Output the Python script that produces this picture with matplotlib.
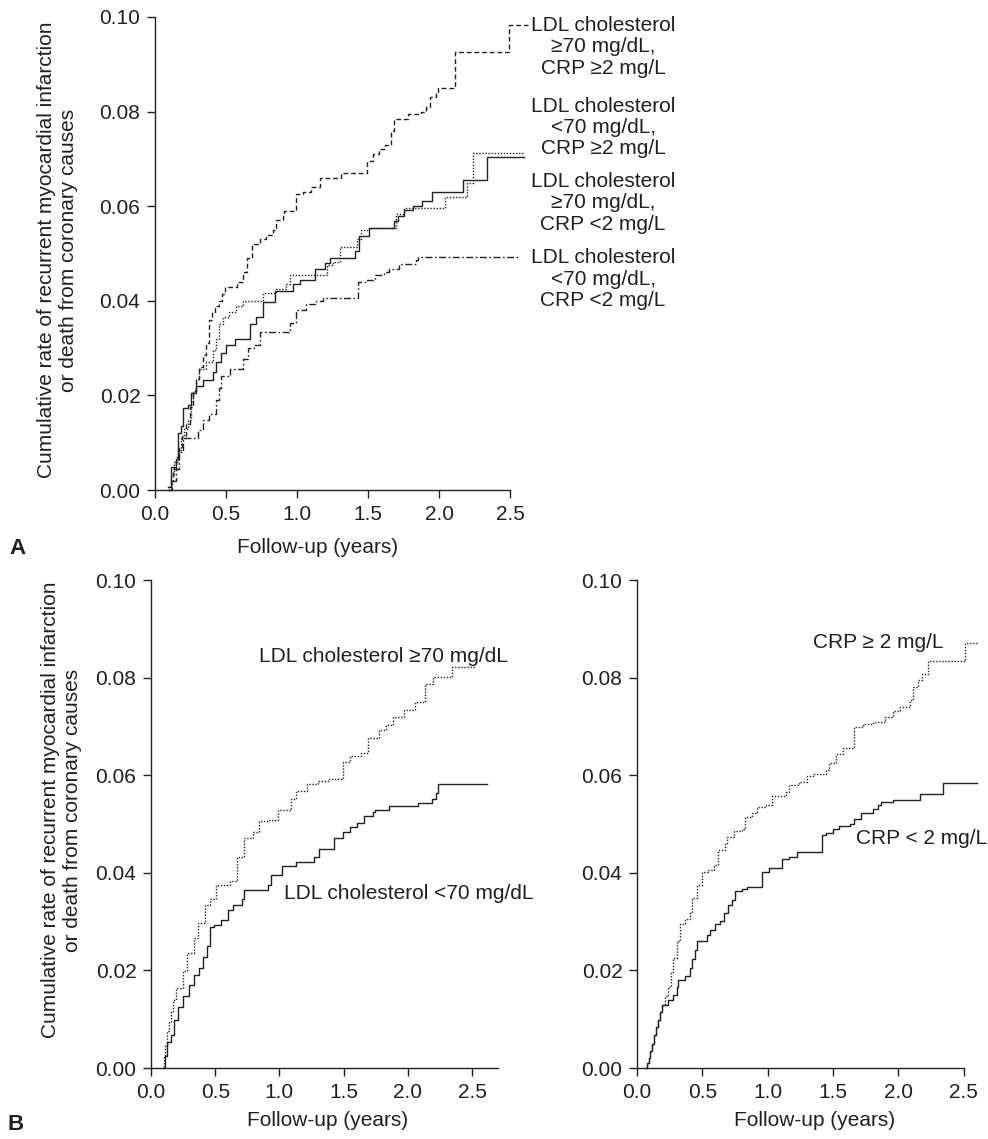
import matplotlib.pyplot as plt

plt.rcParams['font.family'] = ['Liberation Sans', 'DejaVu Sans']

INK = '#202020'
FS = 15

# Panel A: four LDL / CRP groups (cumulative event rate, step curves)
a_ldl_hi_crp_hi_x = [0.09, 0.11, 0.13, 0.15, 0.17, 0.19, 0.22, 0.245, 0.27, 0.29, 0.31, 0.335, 0.36, 0.38,
                     0.40, 0.42, 0.45, 0.47, 0.49, 0.55, 0.58, 0.62, 0.65, 0.68, 0.74, 0.78, 0.83, 0.85,
                     0.90, 0.91, 0.995, 1.04, 1.10, 1.16, 1.31, 1.465, 1.49, 1.535, 1.58, 1.62, 1.665,
                     1.68, 1.78, 1.875, 1.91, 1.935, 1.98, 1.995, 2.11, 2.49, 2.63]
a_ldl_hi_crp_hi_y = [0.0006, 0.002, 0.0045, 0.007, 0.009, 0.0115, 0.014, 0.0175, 0.021, 0.0235, 0.026,
                     0.0285, 0.031, 0.036, 0.0375, 0.039, 0.040, 0.0415, 0.043, 0.043, 0.044, 0.046,
                     0.049, 0.052, 0.053, 0.054, 0.055, 0.057, 0.058, 0.059, 0.0625, 0.063, 0.064,
                     0.066, 0.067, 0.067, 0.0695, 0.071, 0.072, 0.073, 0.076, 0.0785, 0.0795, 0.080,
                     0.081, 0.083, 0.084, 0.085, 0.0925, 0.0983, 0.0983]

a_ldl_lo_crp_hi_x = [0.09, 0.11, 0.137, 0.16, 0.18, 0.205, 0.23, 0.25, 0.266, 0.29, 0.31, 0.36, 0.41, 0.43,
                     0.45, 0.48, 0.52, 0.57, 0.62, 0.76, 0.85, 0.925, 0.95, 1.21, 1.25, 1.30, 1.42, 1.45,
                     1.51, 1.70, 1.75, 2.04, 2.195, 2.24, 2.60]
a_ldl_lo_crp_hi_y = [0.0, 0.003, 0.006, 0.0085, 0.011, 0.013, 0.0147, 0.018, 0.021, 0.0235, 0.0256,
                     0.027, 0.0295, 0.032, 0.035, 0.0365, 0.0377, 0.039, 0.040, 0.0416, 0.0424, 0.0436,
                     0.0455, 0.0475, 0.0483, 0.0514, 0.053, 0.055, 0.0553, 0.0584, 0.0596, 0.062, 0.065,
                     0.0713, 0.0713]

a_ldl_hi_crp_lo_x = [0.09, 0.113, 0.148, 0.16, 0.183, 0.195, 0.23, 0.254, 0.29, 0.336, 0.407, 0.43, 0.466,
                     0.50, 0.56, 0.666, 0.713, 0.76, 0.842, 0.97, 1.02, 1.125, 1.195, 1.23, 1.41, 1.44,
                     1.51, 1.68, 1.71, 1.75, 1.82, 1.88, 1.95, 2.17, 2.34, 2.60]
a_ldl_hi_crp_lo_y = [0.0006, 0.0049, 0.0065, 0.012, 0.0135, 0.0174, 0.018, 0.0205, 0.022, 0.0233, 0.025,
                     0.027, 0.029, 0.0307, 0.032, 0.035, 0.0366, 0.0397, 0.042, 0.0436, 0.0444, 0.0467,
                     0.0479, 0.049, 0.0506, 0.0537, 0.0553, 0.0569, 0.058, 0.0592, 0.060, 0.0612, 0.063,
                     0.0656, 0.0705, 0.0705]

a_ldl_lo_crp_lo_x = [0.09, 0.12, 0.148, 0.17, 0.195, 0.30, 0.336, 0.38, 0.43, 0.45, 0.466, 0.525, 0.62,
                     0.654, 0.70, 0.736, 0.95, 0.995, 1.066, 1.136, 1.18, 1.43, 1.49, 1.55, 1.61, 1.65,
                     1.72, 1.84, 1.853, 2.57]
a_ldl_lo_crp_lo_y = [0.0, 0.002, 0.0045, 0.008, 0.011, 0.0127, 0.0147, 0.016, 0.019, 0.0215, 0.024,
                     0.0256, 0.0276, 0.030, 0.0307, 0.0334, 0.0354, 0.038, 0.0393, 0.040, 0.0406, 0.044,
                     0.0444, 0.0455, 0.046, 0.0467, 0.0477, 0.0487, 0.0492, 0.0492]

a_labels = ['LDL cholesterol\n\u226570 mg/dL,\nCRP \u22652 mg/L',
            'LDL cholesterol\n<70 mg/dL,\nCRP \u22652 mg/L',
            'LDL cholesterol\n\u226570 mg/dL,\nCRP <2 mg/L',
            'LDL cholesterol\n<70 mg/dL,\nCRP <2 mg/L']
a_label_y = [0.0983, 0.0812, 0.0653, 0.0492]

# Panel B left: by LDL cholesterol
bl_ldl_hi_x = [0.084, 0.098, 0.112, 0.125, 0.14, 0.154, 0.175, 0.196, 0.251, 0.279, 0.335, 0.363, 0.419,
               0.461, 0.503, 0.615, 0.67, 0.726, 0.796, 0.838, 0.908, 0.992, 1.089, 1.131, 1.215, 1.299,
               1.383, 1.494, 1.55, 1.634, 1.69, 1.774, 1.83, 1.885, 1.969, 2.053, 2.137, 2.193, 2.346,
               2.53]
bl_ldl_hi_y = [0.0, 0.0023, 0.0046, 0.0075, 0.0095, 0.0114, 0.014, 0.0163, 0.0198, 0.0236, 0.0266,
               0.0297, 0.0335, 0.0346, 0.0376, 0.0384, 0.0433, 0.0471, 0.0483, 0.0506, 0.0509, 0.0529,
               0.0551, 0.0567, 0.0582, 0.0589, 0.0593, 0.0627, 0.0639, 0.0646, 0.0677, 0.0692, 0.0703,
               0.0719, 0.0734, 0.0749, 0.0787, 0.0802, 0.0821, 0.0821]

bl_ldl_lo_x = [0.098, 0.11, 0.126, 0.154, 0.18, 0.21, 0.25, 0.293, 0.335, 0.377, 0.405, 0.433, 0.461,
               0.489, 0.545, 0.60, 0.642, 0.712, 0.726, 0.908, 0.936, 1.02, 1.13, 1.27, 1.31, 1.425,
               1.494, 1.55, 1.606, 1.66, 1.73, 1.746, 1.857, 2.08, 2.19, 2.22, 2.235, 2.617]
bl_ldl_lo_y = [0.0, 0.0025, 0.0053, 0.0068, 0.0099, 0.0125, 0.0148, 0.0171, 0.019, 0.0205, 0.0228,
               0.0251, 0.0289, 0.0293, 0.0304, 0.0323, 0.0335, 0.0346, 0.0365, 0.0376, 0.0395, 0.0414,
               0.0422, 0.0433, 0.0449, 0.0471, 0.0483, 0.0494, 0.0502, 0.0517, 0.0525, 0.0528, 0.0536,
               0.0544, 0.0551, 0.0563, 0.0582, 0.0582]

# Panel B right: by CRP
br_crp_hi_x = [0.072, 0.08, 0.09, 0.10, 0.115, 0.13, 0.145, 0.16, 0.175, 0.19, 0.213, 0.239, 0.258, 0.278,
               0.303, 0.329, 0.368, 0.406, 0.419, 0.457, 0.496, 0.547, 0.586, 0.624, 0.676, 0.689, 0.74,
               0.804, 0.83, 0.88, 0.92, 0.984, 1.035, 1.138, 1.164, 1.24, 1.305, 1.344, 1.447, 1.47,
               1.524, 1.575, 1.665, 1.73, 1.806, 1.896, 1.96, 2.01, 2.09, 2.115, 2.153, 2.18, 2.23,
               2.51, 2.60]
br_crp_hi_y = [0.0, 0.001, 0.002, 0.0035, 0.005, 0.0068, 0.0085, 0.0098, 0.0115, 0.013, 0.0147, 0.0166,
               0.0196, 0.0226, 0.026, 0.0295, 0.0306, 0.0318, 0.0348, 0.0375, 0.0401, 0.0405, 0.0416,
               0.0447, 0.0458, 0.0473, 0.0485, 0.0489, 0.0515, 0.0523, 0.0534, 0.0538, 0.0557, 0.0565,
               0.058, 0.0587, 0.0599, 0.0603, 0.061, 0.0625, 0.0644, 0.0656, 0.0698, 0.0705, 0.0709,
               0.072, 0.0732, 0.0739, 0.0755, 0.0781, 0.0796, 0.0808, 0.0834, 0.087, 0.087]

br_crp_lo_x = [0.072, 0.08, 0.09, 0.10, 0.115, 0.13, 0.145, 0.16, 0.175, 0.19, 0.239, 0.278, 0.303, 0.316,
               0.368, 0.406, 0.419, 0.445, 0.457, 0.534, 0.56, 0.599, 0.637, 0.663, 0.70, 0.727, 0.753,
               0.804, 0.843, 0.958, 1.01, 1.11, 1.164, 1.228, 1.42, 1.445, 1.50, 1.55, 1.63, 1.665,
               1.716, 1.806, 1.845, 1.87, 1.96, 2.166, 2.346, 2.60]
br_crp_lo_y = [0.0, 0.001, 0.002, 0.0035, 0.005, 0.0068, 0.0085, 0.0098, 0.0115, 0.013, 0.0139, 0.015,
               0.0166, 0.0181, 0.0188, 0.0204, 0.0223, 0.0242, 0.0261, 0.0272, 0.0283, 0.0295, 0.0302,
               0.0318, 0.0333, 0.0344, 0.0363, 0.0367, 0.0371, 0.0401, 0.0409, 0.0428, 0.0432, 0.0443,
               0.0477, 0.0481, 0.0489, 0.0496, 0.050, 0.0511, 0.0523, 0.053, 0.0538, 0.0546, 0.055,
               0.0561, 0.0584, 0.0584]

x_ticks = [0.0, 0.5, 1.0, 1.5, 2.0, 2.5]
y_ticks = [0.00, 0.02, 0.04, 0.06, 0.08, 0.10]
ylabel = 'Cumulative rate of recurrent myocardial infarction\nor death from coronary causes'

W, H = 988, 1139


def style_axes(ax, xmax, spine_end):
    ax.set_xlim(0, xmax)
    ax.set_ylim(0, 0.10)
    ax.set_xticks(x_ticks)
    ax.set_xticklabels([f'{v:.1f}' for v in x_ticks])
    ax.set_yticks(y_ticks)
    ax.set_yticklabels([f'{v:.2f}' for v in y_ticks])
    for side in ('top', 'right'):
        ax.spines[side].set_visible(False)
    for side in ('left', 'bottom'):
        ax.spines[side].set_color(INK)
        ax.spines[side].set_linewidth(1.0)
    ax.spines['bottom'].set_bounds(0, spine_end)
    ax.tick_params(direction='out', length=6, width=1.0, color=INK, labelsize=FS,
                   labelcolor=INK, pad=4.5)
    ax.patch.set_visible(False)


def step(ax, x, y, ls, lw=1.0):
    ax.plot(x, y, drawstyle='steps-post', color=INK, linestyle=ls, linewidth=lw, clip_on=False)


def px_axes(fig, left, bottom_px, top_px, width_px):
    return fig.add_axes([left / W, 1 - bottom_px / H, width_px / W, (bottom_px - top_px) / H])


fig = plt.figure(figsize=(W / 100, H / 100), dpi=100)

# ---- Panel A
ax_a = px_axes(fig, 155, 490, 17, 2.62 * 142.0)
style_axes(ax_a, 2.62, 2.5)
step(ax_a, a_ldl_hi_crp_hi_x, a_ldl_hi_crp_hi_y, (0, (3.5, 2)))
step(ax_a, a_ldl_lo_crp_hi_x, a_ldl_lo_crp_hi_y, (0, (1, 1.2)))
step(ax_a, a_ldl_hi_crp_lo_x, a_ldl_hi_crp_lo_y, '-')
step(ax_a, a_ldl_lo_crp_lo_x, a_ldl_lo_crp_lo_y, (0, (5, 1.8, 1.2, 1.8)))
for label, yv in zip(a_labels, a_label_y):
    ax_a.text(3.155, yv + 0.0019, label, ha='center', va='top', fontsize=FS, color=INK,
              linespacing=1.15, clip_on=False)
fig.text(58 / W, 1 - 250 / H, ylabel, rotation=90, ha='center', va='center', fontsize=FS,
         color=INK, linespacing=1.2)
fig.text(318 / W, 1 - 547 / H, 'Follow-up (years)', ha='center', va='center', fontsize=FS, color=INK)
fig.text(17 / W, 1 - 549 / H, 'A', ha='center', va='center', fontsize=FS + 1, fontweight='bold',
         color=INK)

# ---- Panel B left
ax_bl = px_axes(fig, 151, 1068, 580, 2.705 * 128.4)
style_axes(ax_bl, 2.705, 2.705)
step(ax_bl, bl_ldl_hi_x, bl_ldl_hi_y, (0, (1, 1.2)))
step(ax_bl, bl_ldl_lo_x, bl_ldl_lo_y, '-')
ax_bl.text(0.838, 0.0844, 'LDL cholesterol \u226570 mg/dL', ha='left', va='center', fontsize=FS,
           color=INK, clip_on=False)
ax_bl.text(1.034, 0.0357, 'LDL cholesterol <70 mg/dL', ha='left', va='center', fontsize=FS,
           color=INK, clip_on=False)
fig.text(62 / W, 1 - 810 / H, ylabel, rotation=90, ha='center', va='center', fontsize=FS,
         color=INK, linespacing=1.2)
fig.text(328 / W, 1 - 1120 / H, 'Follow-up (years)', ha='center', va='center', fontsize=FS, color=INK)
fig.text(16 / W, 1 - 1125 / H, 'B', ha='center', va='center', fontsize=FS + 1, fontweight='bold',
         color=INK)

# ---- Panel B right
ax_br = px_axes(fig, 637, 1068, 580, 2.62 * 130.6)
style_axes(ax_br, 2.62, 2.5)
step(ax_br, br_crp_hi_x, br_crp_hi_y, (0, (1, 1.2)))
step(ax_br, br_crp_lo_x, br_crp_lo_y, '-')
ax_br.text(1.344, 0.0872, 'CRP \u2265 2 mg/L', ha='left', va='center', fontsize=FS, color=INK,
           clip_on=False)
ax_br.text(1.678, 0.047, 'CRP < 2 mg/L', ha='left', va='center', fontsize=FS, color=INK,
           clip_on=False)
fig.text(815 / W, 1 - 1120 / H, 'Follow-up (years)', ha='center', va='center', fontsize=FS, color=INK)

fig.savefig('out.png', dpi=100)
